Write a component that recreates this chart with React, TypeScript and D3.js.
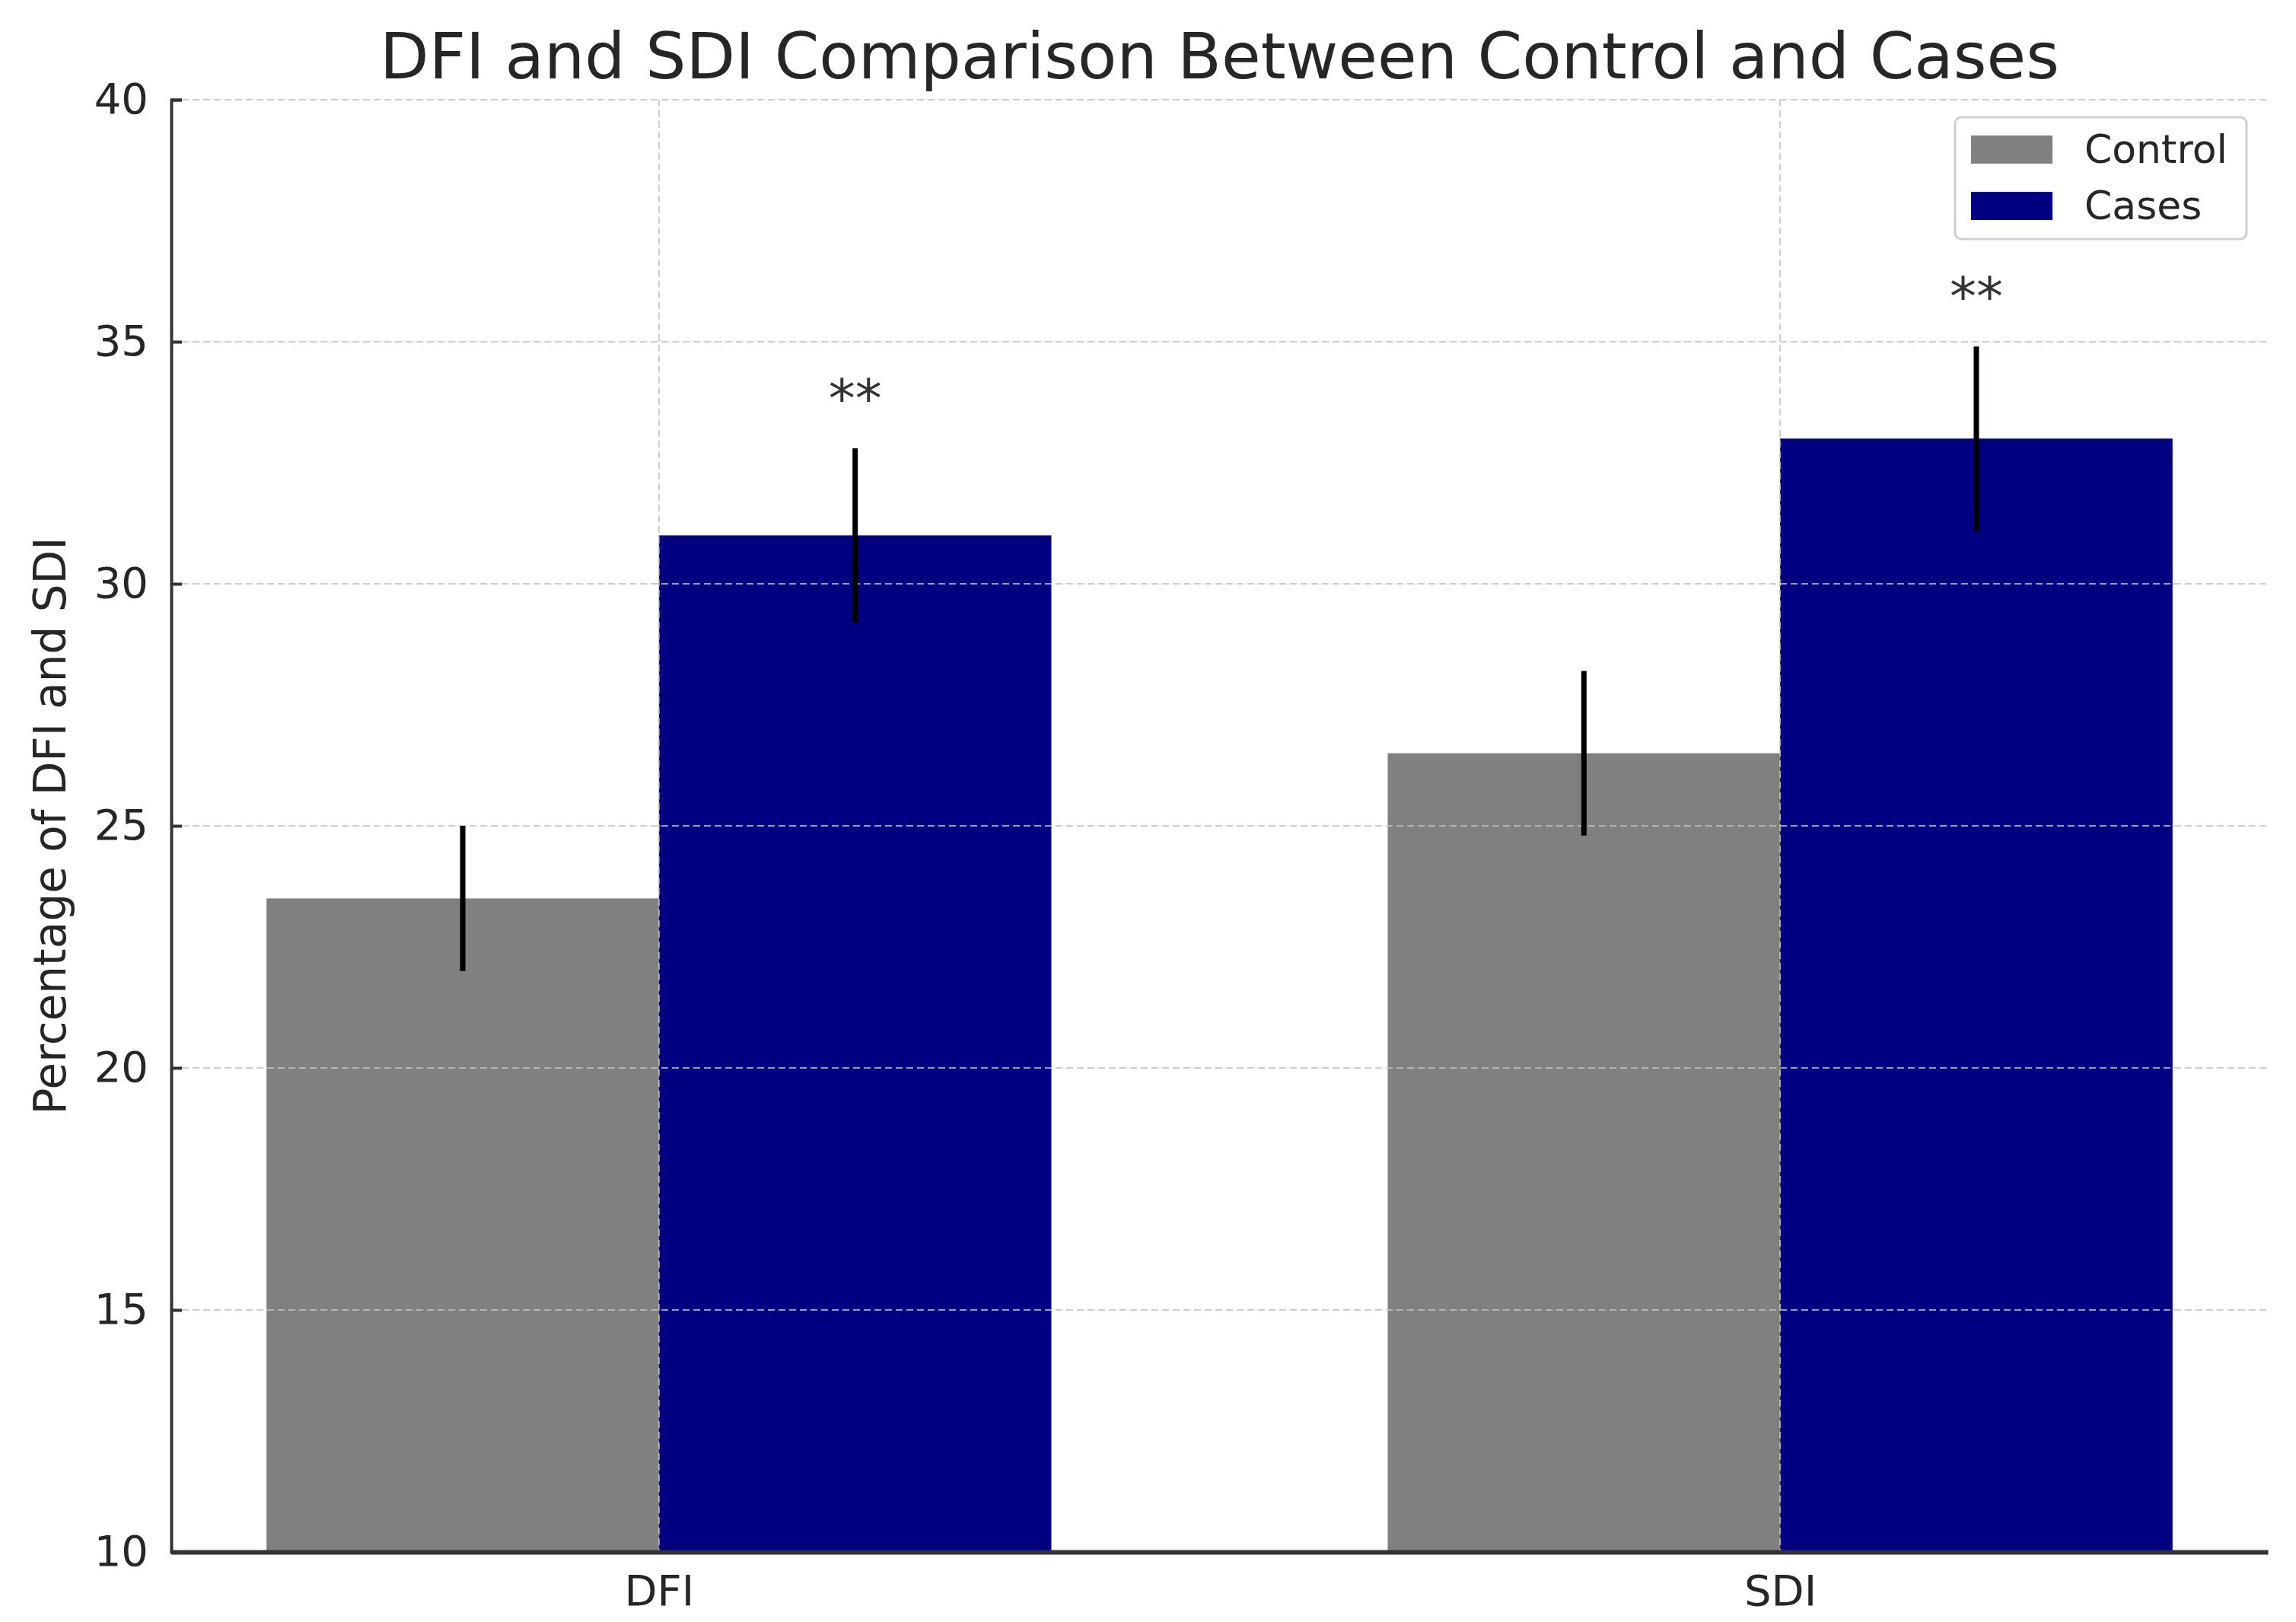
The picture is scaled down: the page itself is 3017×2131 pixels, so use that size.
import React, { useRef, useEffect } from 'react';
import * as d3 from 'd3';

const categories = ['DFI', 'SDI'];
const groups = ['Control', 'Cases'];
const controlMeans = [23.5, 26.5];
const controlErrors = [1.5, 1.7];
const casesMeans = [31, 33];
const casesErrors = [1.8, 1.9];
const significance = ['**', '**'];
const yTicks = [10, 15, 20, 25, 30, 35, 40];

const W = 3017;
const H = 2131;
const FONT = 'DejaVu Sans, sans-serif';

const App: React.FC = () => {
  const svgRef = useRef<SVGSVGElement | null>(null);

  useEffect(() => {
    const root = d3.select(svgRef.current!);
    root.selectAll('*').remove();

    const left = 225, right = 2980, top = 131, bottom = 2039;
    const barWidth = 0.35;

    // x in "category index" units, like matplotlib with default 5% margins
    const x = d3.scaleLinear().domain([-0.435, 1.435]).range([left, right]);
    const y = d3.scaleLinear().domain([10, 40]).range([bottom, top]);

    const series = [
      { name: groups[0], means: controlMeans, errs: controlErrors, color: '#808080', offset: -barWidth / 2 },
      { name: groups[1], means: casesMeans, errs: casesErrors, color: '#000080', offset: barWidth / 2 },
    ];

    const svg = root.append('g');

    // bars
    series.forEach((s) => {
      svg.append('g')
        .selectAll('rect')
        .data(categories)
        .enter()
        .append('rect')
        .attr('x', (_, i) => x(i + s.offset - barWidth / 2))
        .attr('width', x(barWidth) - x(0))
        .attr('y', (_, i) => y(s.means[i]))
        .attr('height', (_, i) => y(10) - y(s.means[i]))
        .attr('fill', s.color);
    });

    // grid on top of bars
    const grid = svg.append('g')
      .attr('stroke', '#c0c0c0')
      .attr('stroke-opacity', 0.8)
      .attr('stroke-width', 2)
      .attr('stroke-dasharray', '9,5');
    grid.selectAll('line.h')
      .data(yTicks)
      .enter()
      .append('line')
      .attr('x1', left).attr('x2', right)
      .attr('y1', (d) => y(d)).attr('y2', (d) => y(d));
    grid.selectAll('line.v')
      .data(categories)
      .enter()
      .append('line')
      .attr('x1', (_, i) => x(i)).attr('x2', (_, i) => x(i))
      .attr('y1', top).attr('y2', bottom);

    // error bars
    series.forEach((s) => {
      svg.append('g')
        .selectAll('line')
        .data(categories)
        .enter()
        .append('line')
        .attr('x1', (_, i) => x(i + s.offset))
        .attr('x2', (_, i) => x(i + s.offset))
        .attr('y1', (_, i) => y(s.means[i] - s.errs[i]))
        .attr('y2', (_, i) => y(s.means[i] + s.errs[i]))
        .attr('stroke', '#000')
        .attr('stroke-width', 7);
    });

    // significance stars above cases
    svg.append('g')
      .selectAll('text')
      .data(significance)
      .enter()
      .append('text')
      .attr('x', (_, i) => x(i + barWidth / 2))
      .attr('y', (_, i) => y(casesMeans[i] + casesErrors[i] + 0.65))
      .attr('text-anchor', 'middle')
      .attr('font-family', FONT)
      .attr('font-size', 70)
      .attr('fill', '#333')
      .text((d) => d);

    // y axis
    const yAxis = svg.append('g')
      .attr('transform', `translate(${left},0)`)
      .call(d3.axisLeft(y).tickValues(yTicks).tickSize(-14).tickPadding(30).tickFormat(d3.format('d')));
    yAxis.select('.domain').attr('stroke', '#333').attr('stroke-width', 4);
    yAxis.selectAll('.tick line').attr('stroke', '#333').attr('stroke-width', 4);
    yAxis.selectAll('.tick text')
      .attr('font-family', FONT)
      .attr('font-size', 56)
      .attr('fill', '#262626')
      .attr('x', -30);

    // x axis
    const xAxis = svg.append('g')
      .attr('transform', `translate(0,${bottom})`)
      .call(d3.axisBottom(x).tickValues([0, 1]).tickSize(0).tickPadding(30)
        .tickFormat((d) => categories[d as number]));
    xAxis.select('.domain').attr('stroke', '#333').attr('stroke-width', 6);
    xAxis.selectAll('.tick text')
      .attr('font-family', FONT)
      .attr('font-size', 56)
      .attr('fill', '#262626');

    // title
    svg.append('text')
      .attr('x', (left + right) / 2)
      .attr('y', 103)
      .attr('text-anchor', 'middle')
      .attr('font-family', FONT)
      .attr('font-size', 84)
      .attr('fill', '#262626')
      .text('DFI and SDI Comparison Between Control and Cases');

    // y label
    svg.append('text')
      .attr('transform', `translate(66,${(top + bottom) / 2}) rotate(-90)`)
      .attr('dy', '0.35em')
      .attr('text-anchor', 'middle')
      .attr('font-family', FONT)
      .attr('font-size', 58)
      .attr('fill', '#262626')
      .text('Percentage of DFI and SDI');

    // legend
    const lg = svg.append('g').attr('transform', 'translate(2569,154)');
    lg.append('rect')
      .attr('width', 383).attr('height', 160)
      .attr('rx', 8)
      .attr('fill', '#fff')
      .attr('fill-opacity', 0.85)
      .attr('stroke', '#d0d0d0')
      .attr('stroke-width', 3);
    series.forEach((s, i) => {
      const row = lg.append('g').attr('transform', `translate(0,${42 + i * 74})`);
      row.append('rect')
        .attr('x', 21).attr('y', -18)
        .attr('width', 107).attr('height', 37)
        .attr('fill', s.color);
      row.append('text')
        .attr('x', 170)
        .attr('dy', '0.35em')
        .attr('font-family', FONT)
        .attr('font-size', 52)
        .attr('fill', '#262626')
        .text(s.name);
    });
  }, []);

  return (
    <svg
      ref={svgRef}
      width={W}
      height={H}
      style={{ position: 'absolute', left: 0, top: 0, background: '#fff' }}
    />
  );
};

export default App;
